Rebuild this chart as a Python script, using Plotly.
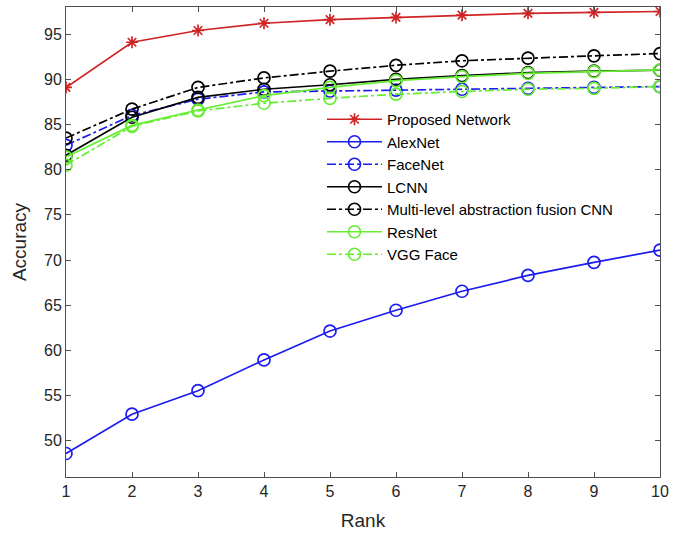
import plotly.graph_objects as go

rank = [1, 2, 3, 4, 5, 6, 7, 8, 9, 10]
proposed = [89.1, 94.1, 95.4, 96.2, 96.6, 96.85, 97.1, 97.3, 97.4, 97.5]
alexnet = [48.6, 52.95, 55.55, 58.95, 62.15, 64.45, 66.55, 68.3, 69.75, 71.1]
facenet = [82.7, 86.0, 87.8, 88.6, 88.7, 88.8, 88.9, 89.0, 89.1, 89.2]
lcnn = [81.6, 85.8, 88.0, 88.9, 89.4, 90.0, 90.4, 90.75, 90.9, 91.0]
mlaf_cnn = [83.5, 86.7, 89.1, 90.15, 90.9, 91.55, 92.05, 92.35, 92.6, 92.85]
resnet = [81.4, 84.9, 86.6, 88.2, 89.1, 89.85, 90.3, 90.65, 90.85, 91.05]
vggface = [80.5, 84.8, 86.5, 87.35, 87.9, 88.35, 88.65, 88.9, 89.0, 89.2]

y_ticks = [50, 55, 60, 65, 70, 75, 80, 85, 90, 95]

RED = "#d02424"
BLUE = "#1c1cf0"
BLACK = "#000000"
GREEN = "#66ee33"

series = [
    ("Proposed Network", proposed, RED, "solid", "asterisk-open", 10),
    ("AlexNet", alexnet, BLUE, "solid", "circle-open", 12),
    ("FaceNet", facenet, BLUE, "dashdot", "circle-open", 12),
    ("LCNN", lcnn, BLACK, "solid", "circle-open", 12),
    ("Multi-level abstraction fusion CNN", mlaf_cnn, BLACK, "dashdot", "circle-open", 12),
    ("ResNet", resnet, GREEN, "solid", "circle-open", 12),
    ("VGG Face", vggface, GREEN, "dashdot", "circle-open", 12),
]

fig = go.Figure()
for name, vals, color, dash, sym, size in series:
    fig.add_trace(go.Scatter(
        x=rank, y=vals, name=name, mode="lines+markers",
        line=dict(color=color, width=1.7, dash=dash),
        marker=dict(symbol=sym, size=size, color=color, line=dict(width=1.7, color=color)),
    ))

axis_common = dict(
    showline=True, linecolor="#4d4d4d", linewidth=1,
    mirror="ticks", ticks="inside", ticklen=5, tickcolor="#4d4d4d",
    showgrid=False, zeroline=False,
    tickfont=dict(family="Liberation Sans, Arial, sans-serif", size=16, color="#262626"),
)

fig.update_layout(
    width=687, height=537,
    margin=dict(l=66, r=27, t=7, b=60),
    plot_bgcolor="white", paper_bgcolor="white",
    font=dict(family="Liberation Sans, Arial, sans-serif", size=16, color="#262626"),
    xaxis=dict(range=[1, 10], tickvals=rank, title=dict(text="Rank", font=dict(size=19), standoff=14), **axis_common),
    yaxis=dict(range=[46, 98], tickvals=y_ticks, title=dict(text="Accuracy", font=dict(size=19), standoff=12), **axis_common),
    legend=dict(
        x=(322 - 66) / 594, y=(477 - 103) / 470, xanchor="left", yanchor="top",
        bgcolor="rgba(0,0,0,0)", borderwidth=0,
        font=dict(size=15, color="#000000"), itemwidth=55,
    ),
)

fig.write_html("out.html")
